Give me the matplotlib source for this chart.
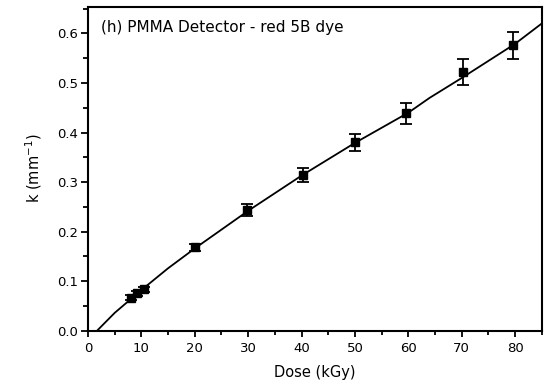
import matplotlib.pyplot as plt
import numpy as np

plt.rcParams['font.family'] = ['DejaVu Sans']

# measured points
dose = [8.1, 9.2, 10.4, 20.1, 29.7, 40.3, 50.0, 59.5, 70.2, 79.7]
k = [0.0666, 0.0755, 0.0835, 0.168, 0.2435, 0.314, 0.380, 0.4386, 0.522, 0.576]
k_err = [0.005, 0.005, 0.005, 0.008, 0.012, 0.0145, 0.018, 0.022, 0.0255, 0.0275]

# fitted curve
fit_dose = [1.7, 5, 10, 15, 20, 30, 40, 50, 60, 64, 70, 80, 85]
fit_k = [0.0, 0.036, 0.082, 0.126, 0.166, 0.242, 0.313, 0.379, 0.44, 0.47, 0.51, 0.579, 0.62]

fig = plt.figure(figsize=(5.47, 3.85), dpi=100)
ax = fig.add_axes([88 / 547, 1 - 330.7 / 385, (541.7 - 88) / 547, (330.7 - 6.7) / 385])

ax.plot(fit_dose, fit_k, color='black', lw=1.3)
ax.errorbar(dose, k, yerr=k_err, fmt='s', color='black', ms=6,
            capsize=4.5, elinewidth=1.3, capthick=1.3)

ax.set_xlim(0, 85)
ax.set_ylim(0, 0.654)
ax.set_xticks(np.arange(0, 81, 10))
ax.set_xticks(np.arange(0, 86, 5), minor=True)
ax.set_yticks(np.arange(0, 0.61, 0.1))
ax.set_yticks(np.arange(0, 0.651, 0.05), minor=True)
ax.yaxis.set_major_formatter(plt.FormatStrFormatter('%.1f'))
ax.tick_params(axis='x', which='major', direction='out', length=4.3, width=1.3, labelsize=9.5, pad=4)
ax.tick_params(axis='x', which='minor', direction='out', length=2.9, width=1.3)
ax.tick_params(axis='y', which='major', direction='out', length=5.4, width=1.3, labelsize=9.5, pad=1.5)
ax.tick_params(axis='y', which='minor', direction='out', length=3.6, width=1.3)
for s in ax.spines.values():
    s.set_linewidth(1.5)

ax.set_xlabel('Dose (kGy)', fontsize=10.5, labelpad=7)
ax.set_ylabel('k (mm$^{-1}$)', fontsize=10.5, labelpad=10)
ax.text(0.028, 0.935, '(h) PMMA Detector - red 5B dye', transform=ax.transAxes,
        fontsize=11, va='center', ha='left')

fig.savefig('out.png', dpi=100)
